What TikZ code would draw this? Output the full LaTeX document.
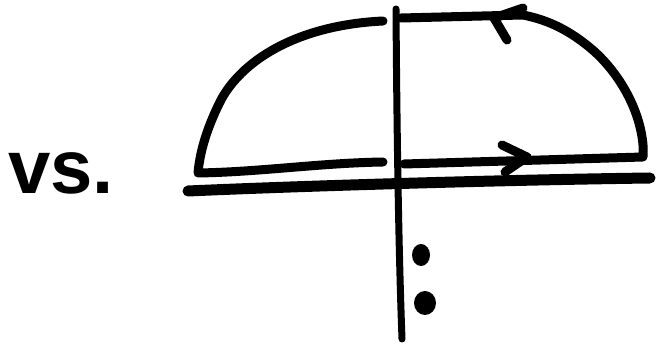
\documentclass[tikz,border=0pt]{standalone}
\usepackage{fontspec}
\setmainfont{Liberation Sans}
\begin{document}
\begin{tikzpicture}[x=1pt,y=-1pt,
  ink/.style={line width=9pt,line cap=round,line join=round,black},
  thinink/.style={line width=7pt,line cap=round,line join=round,black}]
\useasboundingbox (0,0) rectangle (667,344);
% text
\node[anchor=base west,inner sep=0pt,font=\fontsize{76}{76}\selectfont\bfseries] (vs) at (8,194) {vs.};
% vertical axis
\draw[thinink] (396,9) .. controls (397,150) and (399,260) .. (402,339);
% baseline
\draw[ink,line width=11pt] (188,191) .. controls (300,186) and (500,180) .. (650,178);
% left part of contour
\draw[ink] (383,21) .. controls (300,25) and (245,58) .. (222,98)
  .. controls (208,125) and (200,150) .. (198,173)
  .. controls (260,172) and (320,163) .. (383,162);
% right part of contour
\draw[ink] (404,164) -- (643,157) -- (643,145)
  .. controls (640,110) and (620,75) .. (595,52)
  .. controls (570,30) and (548,20) .. (523,15) -- (401,18);
% arrowheads
\draw[ink] (502,145) -- (527,157) -- (505,172);
\draw[ink] (523,8) -- (494,18) -- (507,40);
% dots
\fill (421,255) ellipse [x radius=9, y radius=11];
\fill (425,303) ellipse [x radius=11, y radius=12];
\end{tikzpicture}
\end{document}
